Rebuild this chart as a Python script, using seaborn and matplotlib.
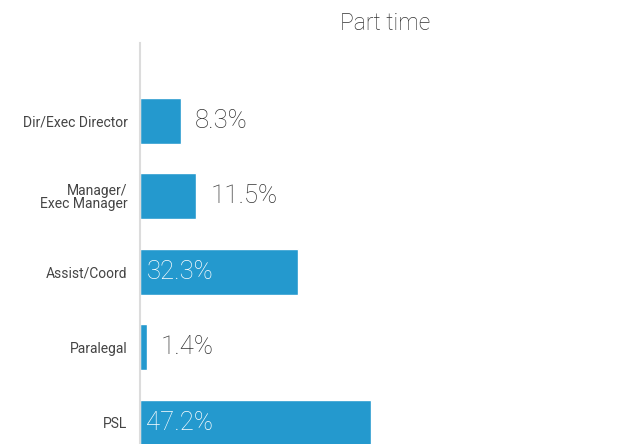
import matplotlib
matplotlib.use("Agg")
import matplotlib.pyplot as plt
import seaborn as sns
import pandas as pd

roles = ["Dir/Exec Director", "Manager/\nExec Manager", "Assist/Coord", "Paralegal", "PSL"]
part_time = [8.3, 11.5, 32.3, 1.4, 47.2]
title = "Part time"

df = pd.DataFrame({"role": roles, "pct": part_time})

sns.set_theme(style="white")
plt.rcParams["font.family"] = ["Roboto", "DejaVu Sans"]

fig = plt.figure(figsize=(6.3, 4.44), dpi=100)
ax = fig.add_axes([140 / 630, 0, 490 / 630, 1 - 43 / 444])

bar_col = "#2499ce"
sns.barplot(data=df, x="pct", y="role", color=bar_col, saturation=1, width=0.61, ax=ax)

ax.set_xlim(0, 100)
ax.set_ylim(4.28, -1.03)
ax.set_xlabel("")
ax.set_ylabel("")
ax.set_xticks([])
for s in ["top", "right", "bottom"]:
    ax.spines[s].set_visible(False)
ax.spines["left"].set_color("#dcdcdc")
ax.spines["left"].set_linewidth(1.5)
ax.tick_params(axis="y", length=0, pad=9, labelsize=10, labelcolor="#444444")
for lbl in ax.get_yticklabels():
    lbl.set_multialignment("right")
    lbl.set_linespacing(0.95)

# value labels: inside the long bars, outside the short ones
for i, v in enumerate(part_time):
    txt = f"{v}%"
    if v > 25:
        ax.annotate(txt, (0, i), xytext=(4.5, 0), textcoords="offset points",
                    ha="left", va="center", fontsize=18.5, color="white", fontweight="light")
    else:
        ax.annotate(txt, (v, i), xytext=(10, 0), textcoords="offset points",
                    ha="left", va="center", fontsize=18.5, color="#333333", fontweight="light")

fig.text((140 + 630) / 2 / 630, 1 - 24 / 444, title, ha="center", va="center",
         fontsize=16.5, color="#333333", fontweight="light")

fig.savefig("out.png", dpi=100)
